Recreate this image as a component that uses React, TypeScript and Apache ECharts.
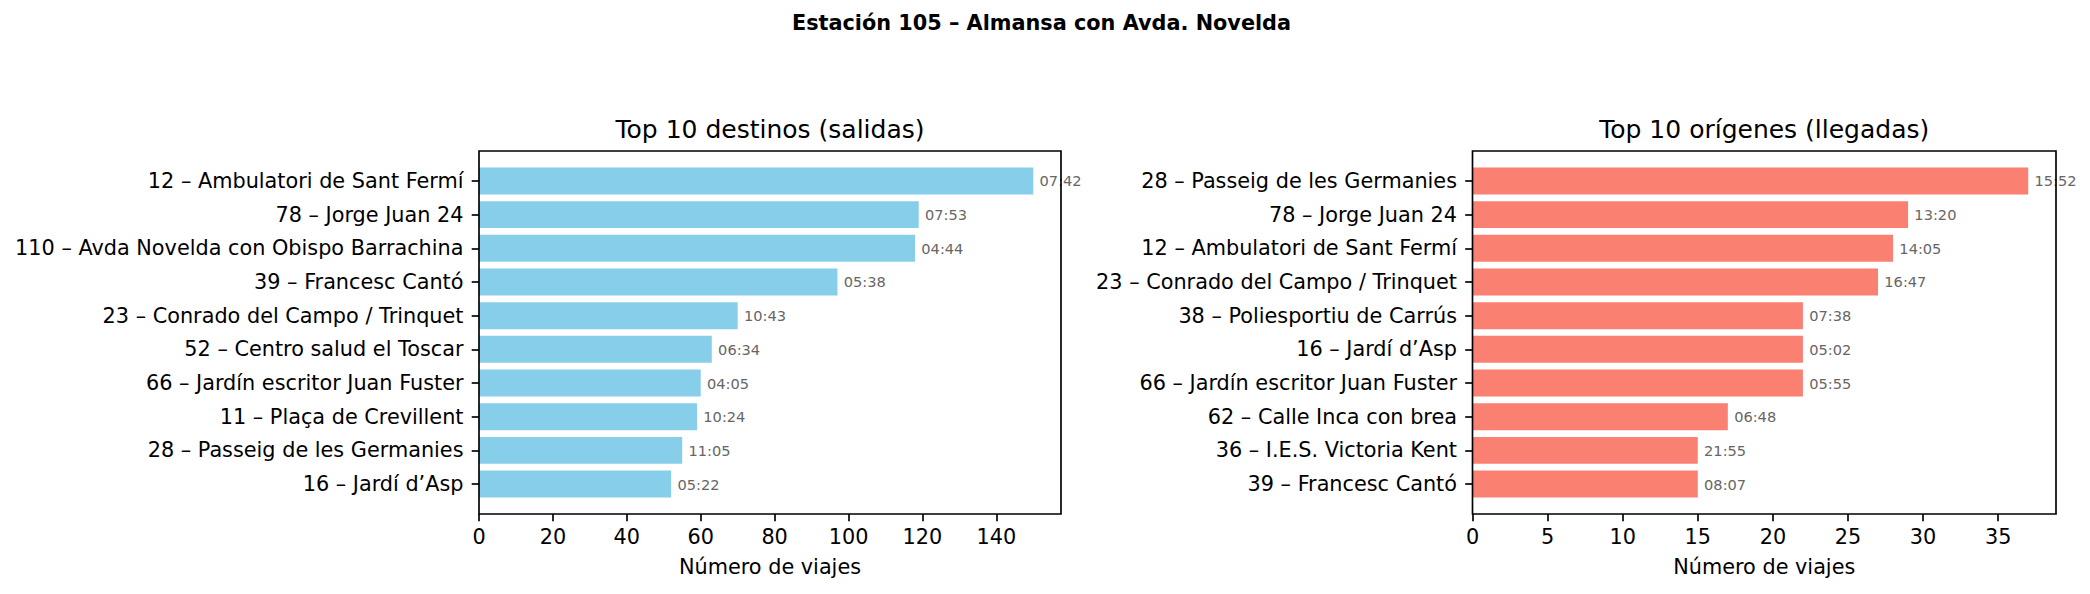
import React, { useEffect, useRef } from "react";
import * as echarts from "echarts";

const suptitle = "Estación 105 – Almansa con Avda. Novelda";
const leftTitle = "Top 10 destinos (salidas)";
const rightTitle = "Top 10 orígenes (llegadas)";
const xName = "Número de viajes";

const leftCategories = [
  "12 – Ambulatori de Sant Fermí",
  "78 – Jorge Juan 24",
  "110 – Avda Novelda con Obispo Barrachina",
  "39 – Francesc Cantó",
  "23 – Conrado del Campo / Trinquet",
  "52 – Centro salud el Toscar",
  "66 – Jardín escritor Juan Fuster",
  "11 – Plaça de Crevillent",
  "28 – Passeig de les Germanies",
  "16 – Jardí d’Asp",
];
const leftValues = [150, 119, 118, 97, 70, 63, 60, 59, 55, 52];
const leftTimes = ["07:42", "07:53", "04:44", "05:38", "10:43", "06:34", "04:05", "10:24", "11:05", "05:22"];

const rightCategories = [
  "28 – Passeig de les Germanies",
  "78 – Jorge Juan 24",
  "12 – Ambulatori de Sant Fermí",
  "23 – Conrado del Campo / Trinquet",
  "38 – Poliesportiu de Carrús",
  "16 – Jardí d’Asp",
  "66 – Jardín escritor Juan Fuster",
  "62 – Calle Inca con brea",
  "36 – I.E.S. Victoria Kent",
  "39 – Francesc Cantó",
];
const rightValues = [37, 29, 28, 27, 22, 22, 22, 17, 15, 15];
const rightTimes = ["15:52", "13:20", "14:05", "16:47", "07:38", "05:02", "05:55", "06:48", "21:55", "08:07"];

const leftTicks = [0, 20, 40, 60, 80, 100, 120, 140];
const rightTicks = [0, 5, 10, 15, 20, 25, 30, 35];
const leftMax = 157.5;
const rightMax = 38.85;

const FONT = "DejaVu Sans";
const W = 2090;
const H = 594;

// axes boxes (pixels)
const AX_TOP = 151;
const AX_BOTTOM = 514;
const L_LEFT = 479;
const L_RIGHT = 1061;
const R_LEFT = 1472.5;
const R_RIGHT = 2056;
const PAD = 13.1; // matplotlib margin inside axes

export default function App() {
  const ref = useRef<HTMLDivElement>(null);
  useEffect(() => {
    if (!ref.current) return;
    const chart = echarts.init(ref.current, undefined, { renderer: "svg" });

    const tickStyle = { color: "#000", width: 1.67 };
    const mkX = (gridIndex: number, max: number, ticks: number[]) => ({
      type: "value",
      gridIndex,
      min: 0,
      max,
      offset: PAD,
      name: xName,
      nameLocation: "middle",
      nameGap: 42,
      nameTextStyle: { fontFamily: FONT, fontSize: 20.8, color: "#000" },
      axisLine: { show: false },
      axisTick: { show: true, length: 7.3, lineStyle: tickStyle, customValues: ticks },
      axisLabel: { fontFamily: FONT, fontSize: 20.8, color: "#000", margin: 12.5, customValues: ticks },
      splitLine: { show: false },
    });
    const mkY = (gridIndex: number, cats: string[]) => ({
      type: "category",
      gridIndex,
      data: cats,
      inverse: true,
      axisLine: { show: false },
      axisTick: { show: true, alignWithLabel: true, length: 7.3, lineStyle: tickStyle },
      axisLabel: { fontFamily: FONT, fontSize: 20.8, color: "#000", margin: 15.5, interval: 0 },
      splitLine: { show: false },
    });
    const mkSeries = (idx: number, values: number[], times: string[], color: string) => ({
      type: "bar",
      xAxisIndex: idx,
      yAxisIndex: idx,
      data: values,
      barWidth: "80%",
      itemStyle: { color },
      label: {
        show: true,
        position: "right",
        distance: 6.3,
        fontFamily: FONT,
        fontSize: 14.6,
        color: "#666",
        formatter: (p: any) => times[p.dataIndex],
      },
      z: 2,
    });

    const frame = (x1: number, x2: number) => ({
      type: "rect",
      shape: { x: x1, y: AX_TOP, width: x2 - x1, height: AX_BOTTOM - AX_TOP },
      style: { fill: "none", stroke: "#000", lineWidth: 1.67 },
      z: 100,
      silent: true,
    });

    chart.setOption({
      animation: false,
      backgroundColor: "#fff",
      grid: [
        { left: L_LEFT, right: W - L_RIGHT, top: AX_TOP + PAD, bottom: H - AX_BOTTOM + PAD },
        { left: R_LEFT, right: W - R_RIGHT, top: AX_TOP + PAD, bottom: H - AX_BOTTOM + PAD },
      ],
      xAxis: [mkX(0, leftMax, leftTicks), mkX(1, rightMax, rightTicks)],
      yAxis: [mkY(0, leftCategories), mkY(1, rightCategories)],
      series: [
        mkSeries(0, leftValues, leftTimes, "#87CEEB"),
        mkSeries(1, rightValues, rightTimes, "#FA8072"),
      ],
      graphic: [
        frame(L_LEFT, L_RIGHT),
        frame(R_LEFT, R_RIGHT),
        {
          type: "text",
          x: 1041.5,
          y: 22.7,
          style: { text: suptitle, fontFamily: FONT, fontSize: 20.8, fontWeight: "bold", fill: "#000", align: "center", verticalAlign: "middle" },
        },
        {
          type: "text",
          x: (L_LEFT + L_RIGHT) / 2,
          y: 129.7,
          style: { text: leftTitle, fontFamily: FONT, fontSize: 25, fill: "#000", align: "center", verticalAlign: "middle" },
        },
        {
          type: "text",
          x: (R_LEFT + R_RIGHT) / 2,
          y: 129.7,
          style: { text: rightTitle, fontFamily: FONT, fontSize: 25, fill: "#000", align: "center", verticalAlign: "middle" },
        },
      ],
    });
    return () => chart.dispose();
  }, []);
  return <div ref={ref} style={{ position: "fixed", left: 0, top: 0, width: W, height: H }} />;
}
